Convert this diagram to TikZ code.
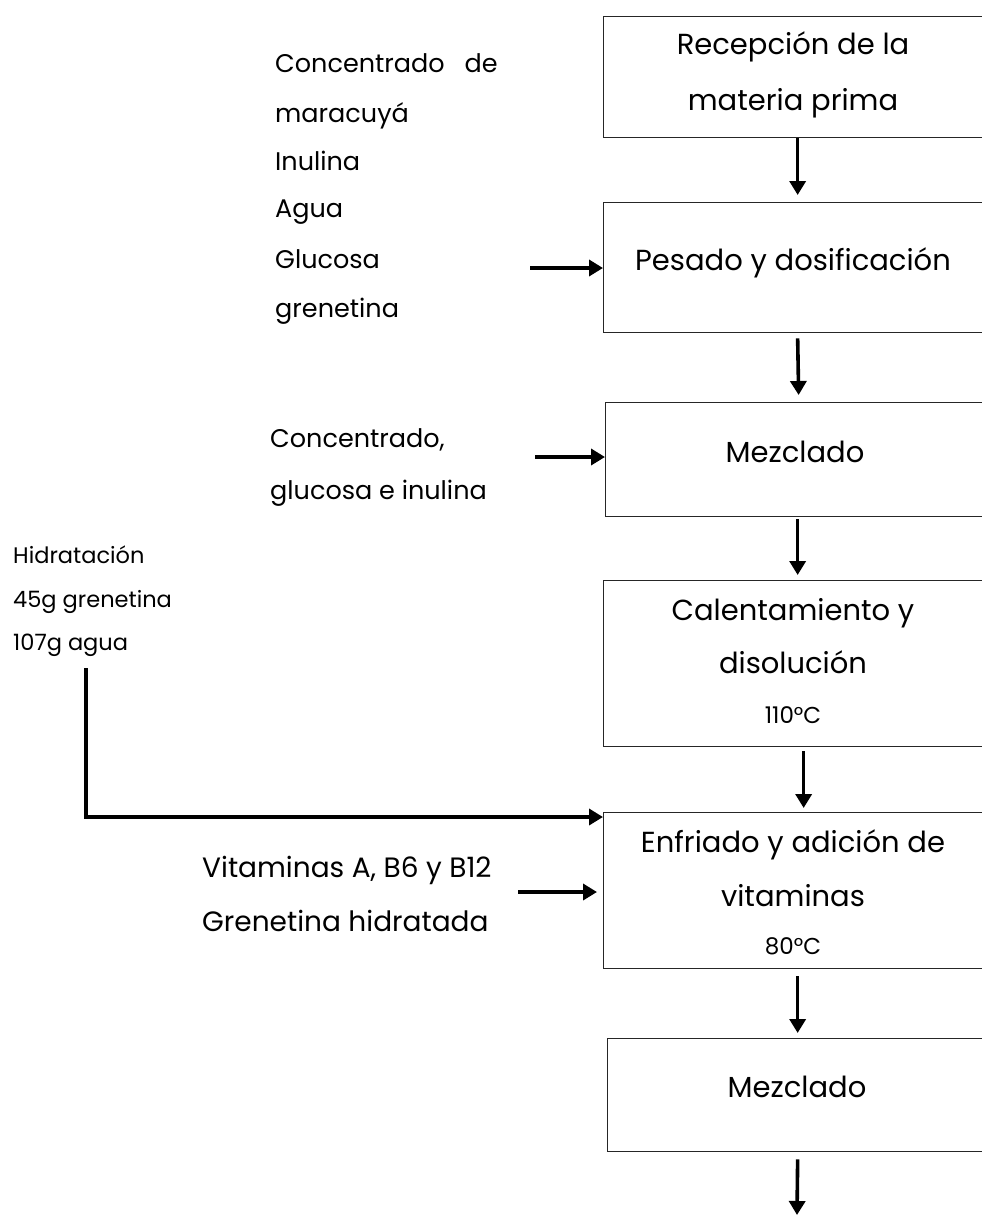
\documentclass[tikz,border=0pt]{standalone}
\usepackage{fontspec}
\setmainfont{Poppins}
\usetikzlibrary{arrows.meta,calc}
\tikzset{
  box/.style={draw=black!85, line width=1.3pt, anchor=north west, inner sep=0pt},
  arr/.style={draw=black, line width=3.6pt, -{Triangle[length=14pt,width=16pt]}},
  big/.style={font=\fontsize{29}{29}\selectfont, inner sep=0pt, anchor=base},
  med/.style={font=\fontsize{25.5}{25.5}\selectfont, inner sep=0pt, anchor=base west},
  sml/.style={font=\fontsize{22.5}{22.5}\selectfont, inner sep=0pt, anchor=base west},
  tmp/.style={font=\fontsize{23}{23}\selectfont, inner sep=0pt, anchor=base},
  vit/.style={font=\fontsize{28}{28}\selectfont, inner sep=0pt, anchor=base west},
}
\begin{document}
\begin{tikzpicture}[x=1pt,y=-1pt]
\useasboundingbox (0,0) rectangle (982,1215);
\clip (0,0) rectangle (982,1215);
% boxes
\node[box, minimum width=382pt, minimum height=121pt] (b1) at (603,16) {};
\node[box, minimum width=382pt, minimum height=130pt] (b2) at (603,202) {};
\node[box, minimum width=380pt, minimum height=114pt] (b3) at (605,402) {};
\node[box, minimum width=382pt, minimum height=166pt] (b4) at (603,580) {};
\node[box, minimum width=382pt, minimum height=156pt] (b5) at (603,812) {};
\node[box, minimum width=378pt, minimum height=113pt] (b6) at (607,1038) {};
% box texts
\node[big] (t1a) at (793,55) {Recepción de la};
\node[big] (t1b) at (793,110) {materia prima};
\node[big] (t2) at (793,270) {Pesado y dosificación};
\node[big] (t3) at (795,462) {Mezclado};
\node[big] (t4a) at (793,620) {Calentamiento y};
\node[big] (t4b) at (793,673) {disolución};
\node[tmp] (t4c) at (793,723) {110°C};
\node[big] (t5a) at (793,852) {Enfriado y adición de};
\node[big] (t5b) at (793,906) {vitaminas};
\node[tmp] (t5c) at (793,954) {80°C};
\node[big] (t6) at (797,1097) {Mezclado};
% left texts
\node[med] (l1) at (275,72) {Concentrado\hspace{20pt}de};
\node[med] (l2) at (275,122) {maracuyá};
\node[med] (l3) at (275,170) {Inulina};
\node[med] (l4) at (275,217) {Agua};
\node[med] (l5) at (275,268) {Glucosa};
\node[med] (l6) at (275,317) {grenetina};
\node[med] (m1) at (270,447) {Concentrado,};
\node[med] (m2) at (270,499) {glucosa e inulina};
\node[sml] (h1) at (13,563) {Hidratación};
\node[sml] (h2) at (13,607) {45g grenetina};
\node[sml] (h3) at (13,650) {107g agua};
\node[vit] (v1) at (202,877) {Vitaminas A, B6 y B12};
\node[vit] (v2) at (202,931) {Grenetina hidratada};
% free-end coordinates
\coordinate (s2) at (530,268);
\coordinate (s3) at (535,457);
\coordinate (sh) at (86,668);
\coordinate (sv) at (518,892);
\coordinate (endp) at (797,1215);
% vertical arrows
\draw[arr] ([xshift=3pt]b1.south) -- ([xshift=3pt,yshift=7pt]b2.north);
\draw[arr] ([xshift=3pt,yshift=-5pt]b2.south) -- ([xshift=3pt,yshift=7pt]b3.north);
\draw[arr] ([xshift=2pt,yshift=-2pt]b3.south) -- ([xshift=3pt,yshift=5pt]b4.north);
\draw[arr] ([xshift=9pt,yshift=-4pt]b4.south) -- ([xshift=9pt,yshift=4pt]b5.north);
\draw[arr] ([xshift=3pt,yshift=-7pt]b5.south) -- ([xshift=1pt,yshift=5pt]b6.north);
\draw[arr] ([xshift=1pt,yshift=-7pt]b6.south) -- (endp);
% side arrows
\draw[arr] (s2) -- (s2 -| b2.west);
\draw[arr] (s3) -- (s3 -| b3.west);
\draw[arr] (sh) |- (b5.north west |- 0,817);
\draw[arr] (sv) -- ([xshift=-6pt]sv -| b5.west);
\end{tikzpicture}
\end{document}
